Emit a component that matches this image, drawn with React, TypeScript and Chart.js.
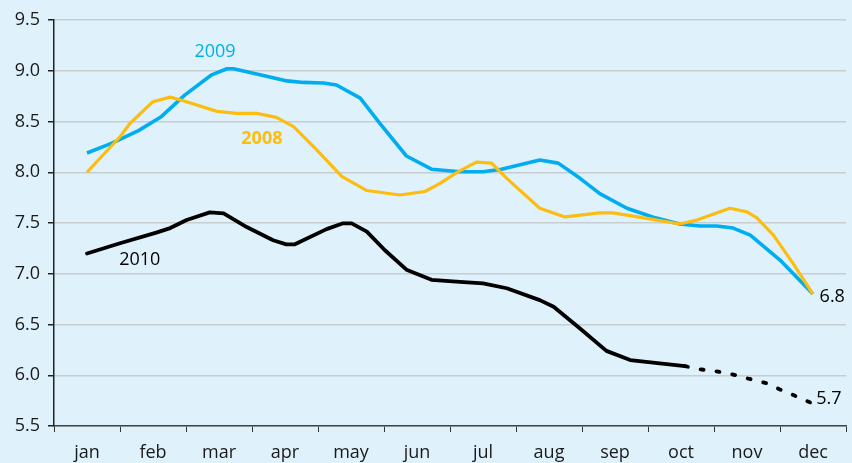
import React, { useEffect, useRef } from "react";
import { Chart, registerables } from "chart.js";

Chart.register(...registerables);

const monthLabels = ["jan", "feb", "mar", "apr", "may", "jun", "jul", "aug", "sep", "oct", "nov", "dec"];

// x positions are in month units (0 = mid-January, 11 = mid-December)
const x2008 = [0, 0.5, 0.65, 1.0, 1.26, 1.46, 1.97, 2.27, 2.57, 2.87, 3.13, 3.48, 3.86, 4.24, 4.74, 5.12, 5.35, 5.6, 5.9, 6.13, 6.36, 6.86, 7.24, 7.77, 7.97, 8.48, 8.98, 9.24, 9.74, 10.0, 10.15, 10.4, 10.7, 11.0];
const v2008 = [8.0, 8.35, 8.48, 8.695, 8.74, 8.705, 8.6, 8.58, 8.58, 8.54, 8.45, 8.22, 7.96, 7.82, 7.776, 7.81, 7.89, 7.996, 8.1, 8.09, 7.94, 7.645, 7.56, 7.6, 7.6, 7.546, 7.49, 7.53, 7.645, 7.61, 7.55, 7.38, 7.1, 6.8];

const x2009 = [0, 0.37, 0.78, 1.13, 1.48, 1.89, 2.12, 2.22, 2.62, 3.03, 3.28, 3.58, 3.78, 4.14, 4.44, 4.84, 5.22, 5.65, 6.0, 6.28, 6.86, 7.14, 7.47, 7.77, 8.18, 8.58, 8.98, 9.29, 9.54, 9.79, 10.05, 10.5, 11.0];
const v2009 = [8.19, 8.285, 8.41, 8.55, 8.76, 8.96, 9.02, 9.02, 8.96, 8.9, 8.885, 8.88, 8.86, 8.73, 8.48, 8.16, 8.03, 8.005, 8.005, 8.03, 8.12, 8.09, 7.94, 7.79, 7.645, 7.556, 7.49, 7.47, 7.47, 7.45, 7.38, 7.135, 6.8];

const x2010 = [0, 0.5, 1.05, 1.26, 1.51, 1.86, 2.07, 2.42, 2.82, 3.02, 3.15, 3.63, 3.88, 4.01, 4.24, 4.51, 4.84, 5.22, 5.65, 6.0, 6.36, 6.86, 7.07, 7.47, 7.87, 8.23, 9.06, 9.27, 9.52, 9.77, 10.0, 10.3, 10.5, 10.72, 11.0];
const v2010 = [7.2, 7.3, 7.405, 7.45, 7.53, 7.605, 7.595, 7.46, 7.33, 7.29, 7.29, 7.44, 7.497, 7.497, 7.415, 7.234, 7.04, 6.94, 6.92, 6.906, 6.857, 6.74, 6.675, 6.46, 6.24, 6.15, 6.09, 6.06, 6.04, 6.01, 5.97, 5.92, 5.86, 5.8, 5.72];
const forecastFrom2010 = 9.06;

const yMin = 5.5;
const yMax = 9.5;
const yStep = 0.5;

const BG = "#dff1fb";
const BLUE = "#00aeef";
const GOLD = "#fdbd10";
const BLACK = "#000000";
const FONT = "'Open Sans', sans-serif";

const textLabels = [
  { text: "2009", x: 1.94, y: 9.185, color: BLUE, weight: "normal", align: "center" },
  { text: "2008", x: 2.65, y: 8.33, color: GOLD, weight: "bold", align: "center" },
  { text: "2010", x: 0.8, y: 7.135, color: BLACK, weight: "normal", align: "center" },
  { text: "6.8", x: 11.1, y: 6.77, color: BLACK, weight: "normal", align: "left" },
  { text: "5.7", x: 11.05, y: 5.765, color: BLACK, weight: "normal", align: "left" },
];

const zip = (xs: number[], ys: number[]) => xs.map((x, i) => ({ x, y: ys[i] }));

const labelPlugin = {
  id: "textLabels",
  afterDatasetsDraw(chart: any) {
    const ctx = chart.ctx;
    const xs = chart.scales.x2;
    const ys = chart.scales.y;
    ctx.save();
    for (const l of textLabels) {
      ctx.font = `${l.weight} 18px ${FONT}`;
      ctx.fillStyle = l.color;
      ctx.textAlign = l.align;
      ctx.textBaseline = "middle";
      ctx.fillText(l.text, xs.getPixelForValue(l.x), ys.getPixelForValue(l.y));
    }
    ctx.restore();
  },
};

const bgPlugin = {
  id: "bg",
  beforeDraw(chart: any) {
    const ctx = chart.ctx;
    ctx.save();
    ctx.fillStyle = BG;
    ctx.fillRect(0, 0, chart.width, chart.height);
    ctx.restore();
  },
};

export default function App() {
  const ref = useRef<HTMLCanvasElement>(null);
  useEffect(() => {
    document.body.style.margin = "0";
    document.body.style.background = BG;
    const chart = new Chart(ref.current!, {
      type: "line",
      data: {
        labels: monthLabels,
        datasets: [
          {
            label: "2008",
            data: zip(x2008, v2008),
            xAxisID: "x2",
            borderColor: GOLD,
            borderWidth: 3.2,
            pointRadius: 0,
            tension: 0,
            borderJoinStyle: "round",
          },
          {
            label: "2009",
            data: zip(x2009, v2009),
            xAxisID: "x2",
            borderColor: BLUE,
            borderWidth: 3.6,
            pointRadius: 0,
            tension: 0,
            borderJoinStyle: "round",
          },
          {
            label: "2010",
            data: zip(x2010, v2010),
            xAxisID: "x2",
            borderColor: BLACK,
            borderWidth: 3.8,
            pointRadius: 0,
            tension: 0,
            borderJoinStyle: "round",
            borderCapStyle: "round",
            segment: {
              borderDash: (c: any) => (c.p0.parsed.x >= forecastFrom2010 ? [3, 13] : undefined),
            },
          },
        ] as any,
      },
      options: {
        animation: false,
        responsive: false,
        maintainAspectRatio: false,
        layout: { padding: { left: 0, right: 6, top: 20, bottom: 0 } },
        plugins: { legend: { display: false }, tooltip: { enabled: false } },
        scales: {
          x: {
            type: "category",
            offset: true,
            grid: { offset: true, drawOnChartArea: false, drawTicks: true, tickLength: 6, color: "#333", tickColor: "#333" },
            border: { color: "#444", width: 1.5 },
            ticks: { color: "#1a1a1a", font: { family: FONT, size: 18 }, padding: 10, maxRotation: 0 },
            afterFit: (s: any) => { s.height = 37; },
          },
          x2: {
            type: "linear",
            display: false,
            min: -0.5,
            max: 11.5,
          },
          y: {
            min: yMin,
            max: yMax,
            ticks: {
              stepSize: yStep,
              color: "#1a1a1a",
              font: { family: FONT, size: 18 },
              padding: 8,
              callback: (v: any) => Number(v).toFixed(1),
            },
            grid: { color: "#c9cdd0", lineWidth: 1.5, tickLength: 6, tickColor: "#222" },
            border: { color: "#222", width: 1.5 },
            afterFit: (s: any) => { s.width = 54; },
          },
        },
      },
      plugins: [bgPlugin, labelPlugin],
    });
    return () => chart.destroy();
  }, []);
  return (
    <div style={{ width: 852, height: 463, background: BG }}>
      <canvas ref={ref} width={852} height={463} style={{ display: "block" }} />
    </div>
  );
}
